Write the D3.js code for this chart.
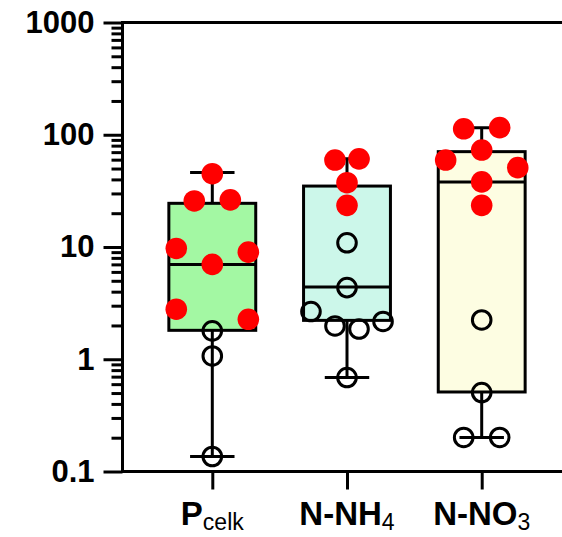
<!DOCTYPE html>
<html><head><meta charset="utf-8">
<script src="https://cdn.jsdelivr.net/npm/d3@7"></script>
<style>html,body{margin:0;padding:0;background:#fff;} svg{display:block;}</style>
</head><body>
<svg id="chart" width="562" height="537"></svg>
<script>
// ---- data ----
const categories = ["Pcelk", "N-NH4", "N-NO3"];
const labelMain = ["P", "N-NH", "N-NO"];
const labelSub = ["celk", "4", "3"];
const boxFills = ["#a3f8a3", "#ccf7ea", "#fdfde2"];

// individual points (data order), and whether each point is highlighted (red)
const pcelkValues = [45, 25.7, 26.3, 9.7, 7.0, 9.0, 2.79, 1.79, 2.27, 1.07, 0.136];
const pcelkHighlight = [1, 1, 1, 1, 1, 1, 1, 0, 1, 0, 0];
const nh4Values = [59.5, 61.0, 37.4, 23.5, 10.9, 4.35, 2.66, 1.98, 1.86, 2.17, 0.687];
const nh4Highlight = [1, 1, 1, 1, 0, 0, 0, 0, 0, 0, 0];
const no3Values = [113, 115.7, 59.5, 73.1, 50.9, 38.0, 23.5, 2.24, 0.505, 0.201, 0.201];
const no3Highlight = [1, 1, 1, 1, 1, 1, 1, 0, 0, 0, 0];

// box-and-whisker summaries
const boxMin = [0.136, 0.687, 0.201];
const boxQ1 = [1.81, 2.22, 0.511];
const boxMedian = [7.0, 4.4, 37.9];
const boxQ3 = [24.5, 34.9, 70.7];
const boxMax = [46, 61.0, 115.7];

// axis ticks
const yTickValues = [0.1, 1, 10, 100, 1000];
const yTickLabels = ["0.1", "1", "10", "100", "1000"];

// ---- layout ----
const W = 562, H = 537;
const axisX = 122.5, plotTop = 22.5, plotBottom = 471.5;
const svg = d3.select("#chart");
const y = d3.scaleLog().domain([0.1, 1000]).range([plotBottom, plotTop]);
const x = d3.scalePoint().domain(categories).range([212.3, 481.7]);
const step = x.step();
const boxW = step * 0.645, capW = step * 0.33, spread = step * 0.535;
const rDot = 10.8, rOpen = 9.3, lw = 3;
const font = "'Liberation Sans', Arial, Helvetica, sans-serif";

const groups = [
  {vals: pcelkValues, hl: pcelkHighlight},
  {vals: nh4Values, hl: nh4Highlight},
  {vals: no3Values, hl: no3Highlight}
];

// ---- boxes and whiskers ----
const gBox = svg.append("g");
categories.forEach((c, i) => {
  const cx = x(c);
  const g = gBox.append("g");
  g.append("line").attr("x1", cx).attr("x2", cx).attr("y1", y(boxMax[i])).attr("y2", y(boxQ3[i]))
    .attr("stroke", "#000").attr("stroke-width", lw);
  g.append("line").attr("x1", cx).attr("x2", cx).attr("y1", y(boxQ1[i])).attr("y2", y(boxMin[i]))
    .attr("stroke", "#000").attr("stroke-width", lw);
  [boxMax[i], boxMin[i]].forEach(v => {
    g.append("line").attr("x1", cx - capW / 2).attr("x2", cx + capW / 2).attr("y1", y(v)).attr("y2", y(v))
      .attr("stroke", "#000").attr("stroke-width", lw);
  });
  g.append("rect").attr("x", cx - boxW / 2).attr("y", y(boxQ3[i]))
    .attr("width", boxW).attr("height", y(boxQ1[i]) - y(boxQ3[i]))
    .attr("fill", boxFills[i]).attr("stroke", "#000").attr("stroke-width", lw);
  g.append("line").attr("x1", cx - boxW / 2).attr("x2", cx + boxW / 2)
    .attr("y1", y(boxMedian[i])).attr("y2", y(boxMedian[i]))
    .attr("stroke", "#000").attr("stroke-width", lw);
});

// ---- scatter (row-binned swarm) ----
const rowGap = 2 * rDot + 0.4;
groups.forEach((grp, gi) => {
  const cx = x(categories[gi]);
  const pts = grp.vals.map((v, k) => ({v, k, hl: grp.hl[k], py: y(v)}));
  const sorted = pts.slice().sort((a, b) => a.py - b.py || a.k - b.k);
  const rows = [];
  let cur = null;
  sorted.forEach(p => {
    if (!cur || p.py - cur.start >= rowGap) { cur = {start: p.py, items: []}; rows.push(cur); }
    cur.items.push(p);
  });
  const maxN = d3.max(rows, r => r.items.length);
  const spacing = maxN > 1 ? Math.min(spread / (maxN - 1), spread / 2) : 0;
  rows.forEach(r => {
    r.items.sort((a, b) => a.k - b.k);
    const n = r.items.length;
    r.items.forEach((p, i) => { p.px = cx + (i - (n - 1) / 2) * spacing; });
  });
  const g = svg.append("g");
  g.selectAll("circle.open").data(pts.filter(p => !p.hl)).join("circle")
    .attr("cx", p => p.px).attr("cy", p => p.py).attr("r", rOpen)
    .attr("fill", "none").attr("stroke", "#000").attr("stroke-width", lw);
  g.selectAll("circle.red").data(pts.filter(p => p.hl)).join("circle")
    .attr("cx", p => p.px).attr("cy", p => p.py).attr("r", rDot)
    .attr("fill", "#ff0000");
});

// ---- axes ----
const minorTicks = [];
for (let e = -1; e < 3; e++) for (let m = 2; m <= 9; m++) minorTicks.push(m * Math.pow(10, e));

const yAxis = svg.append("g").attr("transform", `translate(${axisX},0)`)
  .call(d3.axisLeft(y).tickValues(yTickValues).tickFormat((d, i) => yTickLabels[i])
    .tickSize(19).tickSizeOuter(0).tickPadding(9));
yAxis.select(".domain").remove();
yAxis.selectAll("line").attr("stroke", "#000").attr("stroke-width", lw);
yAxis.selectAll("text").attr("font-family", font).attr("font-weight", "bold")
  .attr("font-size", 31).attr("fill", "#000");

const yMinor = svg.append("g").attr("transform", `translate(${axisX},0)`)
  .call(d3.axisLeft(y).tickValues(minorTicks).tickFormat("").tickSize(11).tickSizeOuter(0));
yMinor.select(".domain").remove();
yMinor.selectAll("line").attr("stroke", "#000").attr("stroke-width", lw);

const xAxis = svg.append("g").attr("transform", `translate(0,${plotBottom})`)
  .call(d3.axisBottom(x).tickSize(18).tickSizeOuter(0).tickFormat(""));
xAxis.select(".domain").remove();
xAxis.selectAll("line").attr("stroke", "#000").attr("stroke-width", lw);

// frame lines
svg.append("line").attr("x1", axisX).attr("x2", axisX).attr("y1", plotTop).attr("y2", plotBottom)
  .attr("stroke", "#000").attr("stroke-width", lw).attr("stroke-linecap", "square");
svg.append("line").attr("x1", axisX).attr("x2", W + 5).attr("y1", plotTop).attr("y2", plotTop)
  .attr("stroke", "#000").attr("stroke-width", lw).attr("stroke-linecap", "square");
svg.append("line").attr("x1", axisX).attr("x2", W + 5).attr("y1", plotBottom).attr("y2", plotBottom)
  .attr("stroke", "#000").attr("stroke-width", lw).attr("stroke-linecap", "square");

// category labels
categories.forEach((c, i) => {
  const t = svg.append("text").attr("x", x(c)).attr("y", 525).attr("text-anchor", "middle")
    .attr("font-family", font).attr("fill", "#000");
  t.append("tspan").attr("font-weight", "bold").attr("font-size", 33).text(labelMain[i]);
  t.append("tspan").attr("font-weight", "normal").attr("font-size", 23).attr("dy", 5).text(labelSub[i]);
});
</script>
</body></html>
